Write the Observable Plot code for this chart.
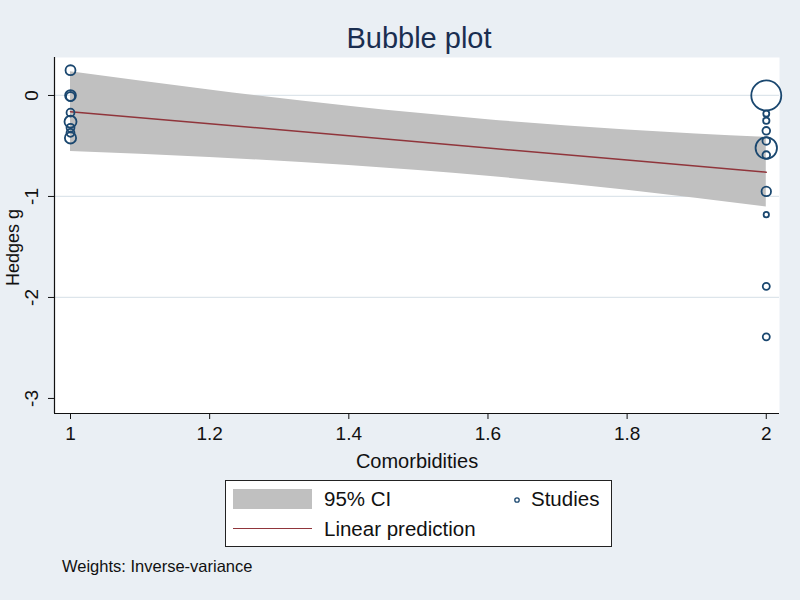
<!DOCTYPE html>
<html>
<head>
<meta charset="utf-8">
<script src="https://cdn.jsdelivr.net/npm/d3@7"></script>
<script src="https://cdn.jsdelivr.net/npm/@observablehq/plot@0.6"></script>
<style>
  html, body { margin: 0; padding: 0; background: #eaeff4; }
  #wrap { position: relative; width: 800px; height: 600px; background: #eaeff4; font-family: "Liberation Sans", Arial, sans-serif; overflow: hidden; }
  #title { position: absolute; left: 0; width: 838px; top: 18px; text-align: center; font-size: 29px; color: #1a2e50; line-height: 40px; }
  #chart { position: absolute; left: 0; top: 0; }
  #legend { position: absolute; left: 225px; top: 480px; width: 385px; height: 65px; background: #fff; border: 1px solid #222; }
  .lt { position: absolute; font-size: 20.5px; color: #111; line-height: 24px; }
  #caption { position: absolute; left: 62px; top: 556px; font-size: 16.5px; color: #111; line-height: 20px; }
</style>
</head>
<body>
<div id="wrap">
  <div id="chart"></div>
  <div id="title"></div>
  <div id="legend"></div>
  <div id="caption"></div>
</div>
<script>
// ---- data ----
const titleText = "Bubble plot";
const xLabel = "Comorbidities";
const yLabel = "Hedges g";
const captionText = "Weights: Inverse-variance";
const legendLabels = ["95% CI", "Linear prediction", "Studies"];

const xTicks = [1, 1.2, 1.4, 1.6, 1.8, 2];
const xTickLabels = ["1", "1.2", "1.4", "1.6", "1.8", "2"];
const yTicks = [0, -1, -2, -3];
const yTickLabels = ["0", "-1", "-2", "-3"];
const yGrid = [0, -1, -2];

// studies: comorbidity value, Hedges g, inverse-variance weight
const studyX = [1, 1, 1, 1, 1, 1, 1, 1,
                2, 2, 2, 2, 2, 2, 2, 2, 2, 2, 2];
const studyG = [0.25, 0.00, -0.01, -0.17, -0.26, -0.32, -0.37, -0.42,
                0.00, -0.18, -0.25, -0.35, -0.45, -0.52, -0.59, -0.95, -1.18, -1.89, -2.39];
const studyW = [11, 13, 9, 7, 16, 7, 7, 14,
                100, 4, 4.5, 6.5, 6.5, 51, 6.5, 10, 3.2, 5.5, 5.5];

// fitted line and 95% CI band (read at axis ticks)
const fitX = [1, 1.2, 1.4, 1.6, 1.8, 2];
const fitY = [-0.16, -0.28, -0.40, -0.52, -0.64, -0.76];
const ciUpper = [0.235, 0.054, -0.107, -0.24, -0.341, -0.415];
const ciLower = [-0.555, -0.614, -0.693, -0.80, -0.939, -1.105];

const xDomain = [0.977, 2.019];
const yDomain = [-3.149, 0.376];

// ---- colors ----
const navy = "#1a476f";
const maroon = "#90353b";
const bandGrey = "#c0c0c0";
const gridColor = "#dde5eb";

const studies = studyX.map((x, i) => ({x, g: studyG[i], w: studyW[i]}));
const fit = fitX.map((x, i) => ({x, y: fitY[i], lo: ciLower[i], hi: ciUpper[i]}));

const chart = Plot.plot({
  width: 800,
  height: 480,
  marginTop: 57,
  marginBottom: 67,
  marginLeft: 54,
  marginRight: 21,
  style: {background: "transparent", fontFamily: "Liberation Sans, Arial, sans-serif", color: "#111"},
  x: {domain: xDomain},
  y: {domain: yDomain},
  r: {type: "sqrt", domain: [0, 100], range: [0, 15]},
  marks: [
    Plot.frame({fill: "white", stroke: "none"}),
    Plot.gridY(yGrid, {stroke: gridColor, strokeOpacity: 1, strokeWidth: 1.2}),
    Plot.areaY(fit, {x: "x", y1: "lo", y2: "hi", fill: bandGrey, curve: "monotone-x"}),
    Plot.lineY(fit, {x: "x", y: "y", stroke: maroon, strokeWidth: 1.5}),
    Plot.dot(studies, {x: "x", y: "g", r: "w", stroke: navy, strokeWidth: 1.8, fill: "none"}),
    Plot.ruleX([xDomain[0]], {stroke: "#111", strokeWidth: 1.2}),
    Plot.ruleY([yDomain[0]], {stroke: "#111", strokeWidth: 1.2}),
    Plot.axisX({ticks: xTicks, tickFormat: (d) => xTickLabels[xTicks.indexOf(d)], tickSize: 6, tickPadding: 7, fontSize: 19, label: null, stroke: "#111"}),
    Plot.axisY({ticks: yTicks, tickFormat: (d) => yTickLabels[yTicks.indexOf(d)], tickSize: 6, tickPadding: 11, tickRotate: -90, fontSize: 19, label: null, stroke: "#111"}),
    Plot.text([xLabel], {frameAnchor: "bottom", lineAnchor: "middle", dy: 48, fontSize: 20, fill: "#111"}),
    Plot.text([yLabel], {frameAnchor: "left", textAnchor: "middle", lineAnchor: "middle", dx: -41, dy: 12, rotate: -90, fontSize: 18, fill: "#111"})
  ]
});
document.getElementById("chart").appendChild(chart);

document.getElementById("title").textContent = titleText;
document.getElementById("caption").textContent = captionText;

// legend
const lg = document.getElementById("legend");
lg.innerHTML = `
  <div style="position:absolute;left:7px;top:8px;width:79px;height:20px;background:${bandGrey}"></div>
  <div class="lt" style="left:98px;top:6px">${legendLabels[0]}</div>
  <svg style="position:absolute;left:286px;top:14px" width="10" height="10"><circle cx="5" cy="5" r="2.2" fill="none" stroke="${navy}" stroke-width="1.3"/></svg>
  <div class="lt" style="left:305px;top:6px">${legendLabels[2]}</div>
  <div style="position:absolute;left:7px;top:47px;width:79px;height:0;border-top:1.5px solid ${maroon}"></div>
  <div class="lt" style="left:98px;top:36px">${legendLabels[1]}</div>
`;
</script>
</body>
</html>
